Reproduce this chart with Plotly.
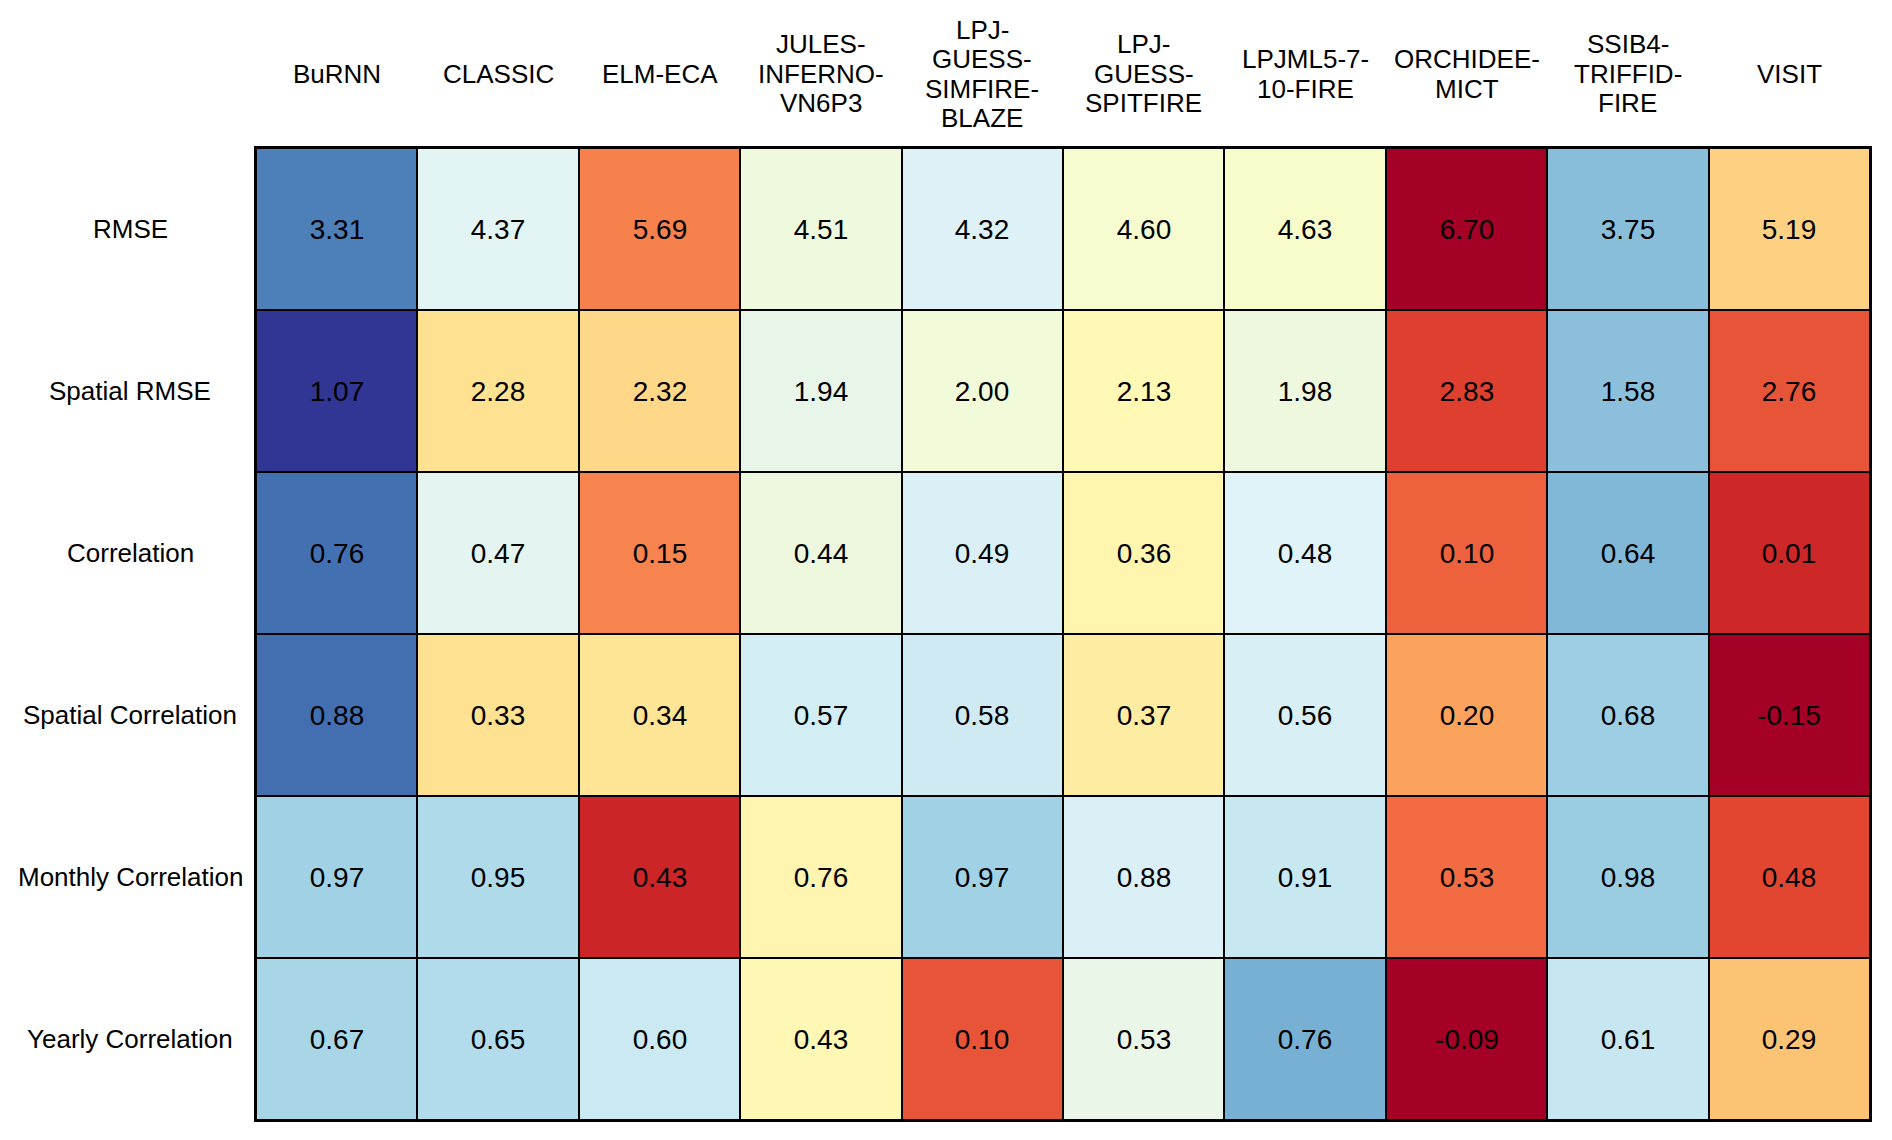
import numpy as np
import plotly.graph_objects as go
import plotly.colors as pc

# ---------------- data ----------------
models = ["BuRNN", "CLASSIC", "ELM-ECA", "JULES-INFERNO-VN6P3",
          "LPJ-GUESS-SIMFIRE-BLAZE", "LPJ-GUESS-SPITFIRE", "LPJML5-7-10-FIRE",
          "ORCHIDEE-MICT", "SSIB4-TRIFFID-FIRE", "VISIT"]
model_labels = ["BuRNN", "CLASSIC", "ELM-ECA", "JULES-<br>INFERNO-<br>VN6P3",
                "LPJ-<br>GUESS-<br>SIMFIRE-<br>BLAZE", "LPJ-<br>GUESS-<br>SPITFIRE",
                "LPJML5-7-<br>10-FIRE", "ORCHIDEE-<br>MICT", "SSIB4-<br>TRIFFID-<br>FIRE", "VISIT"]
metrics = ["RMSE", "Spatial RMSE", "Correlation", "Spatial Correlation",
           "Monthly Correlation", "Yearly Correlation"]

rmse = [3.31, 4.37, 5.69, 4.51, 4.32, 4.60, 4.63, 6.70, 3.75, 5.19]
spatial_rmse = [1.07, 2.28, 2.32, 1.94, 2.00, 2.13, 1.98, 2.83, 1.58, 2.76]
correlation = [0.76, 0.47, 0.15, 0.44, 0.49, 0.36, 0.48, 0.10, 0.64, 0.01]
spatial_correlation = [0.88, 0.33, 0.34, 0.57, 0.58, 0.37, 0.56, 0.20, 0.68, -0.15]
monthly_correlation = [0.97, 0.95, 0.43, 0.76, 0.97, 0.88, 0.91, 0.53, 0.98, 0.48]
yearly_correlation = [0.67, 0.65, 0.60, 0.43, 0.10, 0.53, 0.76, -0.09, 0.61, 0.29]
lower_is_better = [True, True, False, False, False, False]

values = np.array([rmse, spatial_rmse, correlation, spatial_correlation,
                   monthly_correlation, yearly_correlation])

# colour score: row-wise standardised, oriented so that "worse" is high (red)
mean = values.mean(axis=1, keepdims=True)
std = values.std(axis=1, keepdims=True)
sign = np.where(np.array(lower_is_better), 1.0, -1.0)[:, None]
score = sign * (values - mean) / std

colors = pc.diverging.RdYlBu[::-1]
n = len(colors)
colorscale = [[i / (n - 1), c] for i, c in enumerate(colors)]

FONT = "Liberation Sans, Arial, sans-serif"
LABEL_SIZE = 26
VALUE_SIZE = 28
LINE_STEP = 29.5  # px between lines of the column headers

fig = go.Figure(go.Heatmap(
    z=score,
    x=models,
    y=metrics,
    text=[[f"{v:.2f}" for v in row] for row in values],
    texttemplate="%{text}",
    textfont=dict(family=FONT, size=VALUE_SIZE, color="black"),
    colorscale=colorscale,
    zmin=-2, zmax=2,
    showscale=False,
    xgap=2, ygap=2,
    hoverinfo="skip",
))

PLOT_H = 972
annotations = []
for m, lab in zip(models, model_labels):
    lines = lab.split("<br>")
    k = len(lines)
    for i, line in enumerate(lines):
        annotations.append(dict(
            x=m, xref="x", y=1 + 74 / PLOT_H, yref="paper", text=line,
            showarrow=False, xanchor="center", yanchor="middle", align="center",
            yshift=((k - 1) / 2 - i) * LINE_STEP,
            font=dict(family=FONT, size=LABEL_SIZE, color="black"),
        ))
for met in metrics:
    annotations.append(dict(
        x=-0.078, xref="paper", y=met, yref="y", text=met,
        showarrow=False, xanchor="center", yanchor="middle", align="center",
        font=dict(family=FONT, size=LABEL_SIZE, color="black"),
    ))

fig.update_layout(
    width=1876, height=1124,
    margin=dict(l=248, r=12, t=140, b=12),
    paper_bgcolor="white",
    plot_bgcolor="black",
    annotations=annotations,
)
fig.update_xaxes(showticklabels=False, showgrid=False, zeroline=False,
                 showline=True, linecolor="black", linewidth=2, mirror=True,
                 ticks="")
fig.update_yaxes(showticklabels=False, showgrid=False, zeroline=False,
                 showline=True, linecolor="black", linewidth=2, mirror=True,
                 ticks="", autorange="reversed")

fig.write_html("out.html")
